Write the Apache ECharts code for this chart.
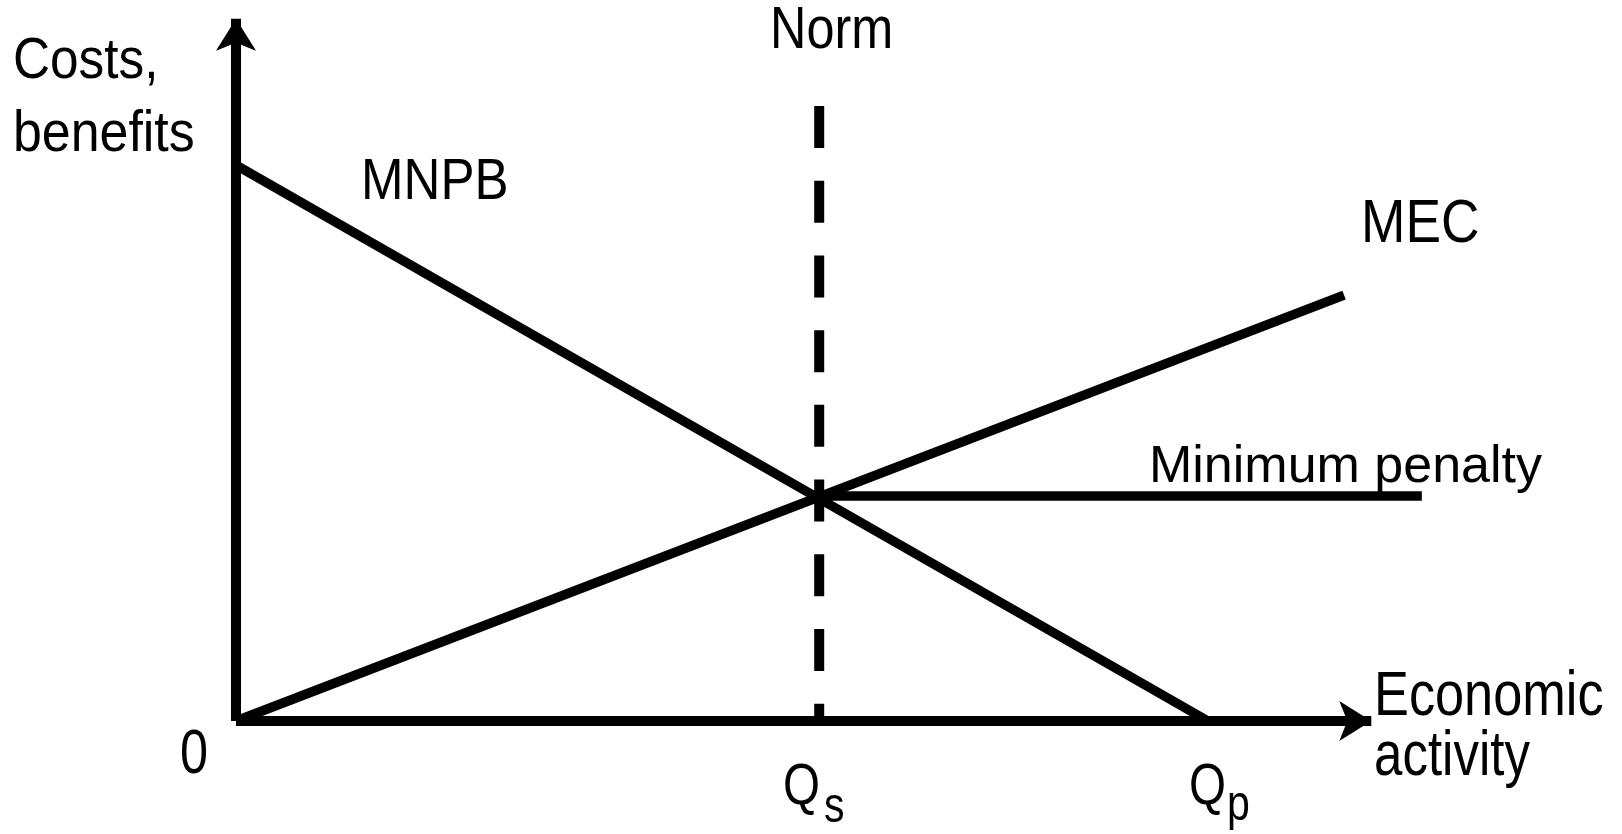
<!DOCTYPE html>
<html>
<head>
<meta charset="utf-8">
<script src="https://cdn.jsdelivr.net/npm/echarts@6/dist/echarts.min.js"></script>
<style>
  html, body { margin: 0; padding: 0; background: #fff; }
  #chart { width: 1622px; height: 834px; }
</style>
</head>
<body>
<div id="chart"></div>
<script>
// chart data (abstract units on both axes)
var mnpb = [[0, 10.05], [10, 0]];       // marginal net private benefit
var mec = [[0, 0], [11.4, 7.7]];        // marginal external cost
var penalty = [[6, 4.07], [12.2, 4.07]]; // minimum penalty
var norm = [[6, 11.12], [6, 0]];        // the norm at Qs
var xAxisEnd = [[0, 0], [11.68, 0]];
var yAxisEnd = [[0, 0], [0, 12.7]];

var chart = echarts.init(document.getElementById('chart'));

var font = 'Liberation Sans, Arial, sans-serif';

// label helper: x = left edge, y = middle of the em box
function label(text, x, y, size, sx) {
    return {
        type: 'text',
        x: x,
        y: y,
        scaleX: sx,
        style: {
            text: text,
            fontSize: size,
            fontFamily: font,
            fill: '#000',
            align: 'left',
            verticalAlign: 'middle'
        }
    };
}

var option = {
    animation: false,
    backgroundColor: '#fff',
    grid: { left: 236, right: 25.2, top: 2.1, bottom: 113 },
    xAxis: { type: 'value', min: 0, max: 14, show: false },
    yAxis: { type: 'value', min: 0, max: 13, show: false },
    series: [
        {
            name: 'axes',
            type: 'line',
            data: [],
            markLine: {
                silent: true,
                symbol: ['none', 'arrow'],
                symbolSize: [30, 32],
                label: { show: false },
                lineStyle: { color: '#000', width: 10, type: 'solid' },
                data: [
                    [{ coord: xAxisEnd[0] }, { coord: xAxisEnd[1] }],
                    [{ coord: yAxisEnd[0] }, { coord: yAxisEnd[1] }]
                ]
            }
        },
        {
            name: 'Norm',
            type: 'line',
            data: norm,
            symbol: 'none',
            clip: false,
            lineStyle: { color: '#000', width: 10, type: [42, 32.7] }
        },
        {
            name: 'MNPB',
            type: 'line',
            data: mnpb,
            symbol: 'none',
            clip: false,
            lineStyle: { color: '#000', width: 9.5 }
        },
        {
            name: 'MEC',
            type: 'line',
            data: mec,
            symbol: 'none',
            clip: false,
            lineStyle: { color: '#000', width: 9.5 }
        },
        {
            name: 'Minimum penalty',
            type: 'line',
            data: penalty,
            symbol: 'none',
            clip: false,
            lineStyle: { color: '#000', width: 9.5 }
        }
    ],
    graphic: [
        label('Costs,', 13, 62.5, 57, 0.9),
        label('benefits', 13, 135, 57, 0.91),
        label('Norm', 770, 31.5, 60, 0.84),
        label('MNPB', 361, 182.5, 58, 0.88),
        label('MEC', 1361, 225, 62, 0.86),
        label('Minimum penalty', 1149, 468, 52, 1.0),
        label('Economic', 1374, 697.5, 63, 0.83),
        label('activity', 1374, 757.5, 63, 0.81),
        label('0', 180, 755.5, 63, 0.8),
        label('Q', 783, 788, 58, 0.82),
        label('s', 824, 808, 50, 0.82),
        label('Q', 1189, 788, 58, 0.82),
        label('p', 1227, 806, 50, 0.82)
    ]
};

chart.setOption(option);
</script>
</body>
</html>
